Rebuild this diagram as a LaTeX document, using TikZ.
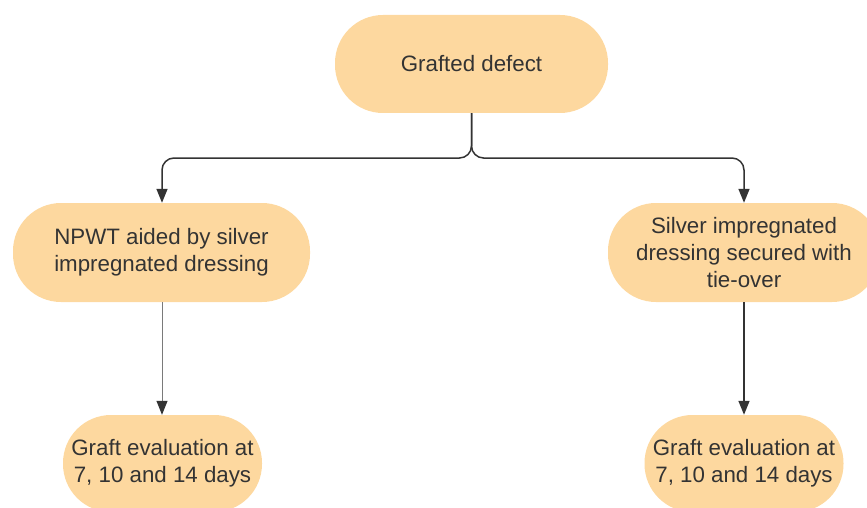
\documentclass[tikz,border=0pt]{standalone}
\usepackage{fontspec}
\setmainfont{Liberation Sans}
\usetikzlibrary{arrows.meta}
\definecolor{pill}{HTML}{FDD89F}
\definecolor{ink}{HTML}{333333}
\begin{document}
\begin{tikzpicture}[x=1pt,y=-1pt,
  pillbox/.style={fill=pill, draw=none, rounded corners=48pt, inner sep=0pt,
    align=center, text=ink, font=\fontsize{22.3}{27}\selectfont},
  conn/.style={draw=ink, line width=1.5pt, rounded corners=12pt,
    -{Triangle[width=11pt,length=14pt]}},
  thinconn/.style={draw=ink!65, line width=1pt,
    -{Triangle[width=11pt,length=14pt,color=ink,fill=ink]}}]
\useasboundingbox (0,0) rectangle (867,508);
\clip (0,0) rectangle (867,508);
\node[pillbox, minimum width=273pt, minimum height=98pt] (top) at (471.5,64) {\raisebox{2pt}{Grafted defect}};
\node[pillbox, minimum width=297pt, minimum height=99pt] (ml) at (161.5,252.5) {NPWT aided by silver\\impregnated dressing};
\node[pillbox, minimum width=272pt, minimum height=99pt] (mr) at (744,252.5) {Silver impregnated\\dressing secured with\\tie-over};
\node[pillbox, minimum width=199pt, minimum height=97pt] (bl) at (162.5,463.5) {Graft evaluation at\\7, 10 and 14 days};
\node[pillbox, minimum width=199pt, minimum height=97pt] (br) at (744,463.5) {Graft evaluation at\\7, 10 and 14 days};
\coordinate (j) at (471.5,158);
\draw[conn] (top.south) -- (j) -| ([xshift=0.5pt]ml.north);
\draw[conn] (top.south) -- (j) -| (mr.north);
\draw[thinconn] ([xshift=0.5pt]ml.south) -- ([xshift=-0.5pt]bl.north);
\draw[conn] (mr.south) -- (br.north);
\end{tikzpicture}
\end{document}
